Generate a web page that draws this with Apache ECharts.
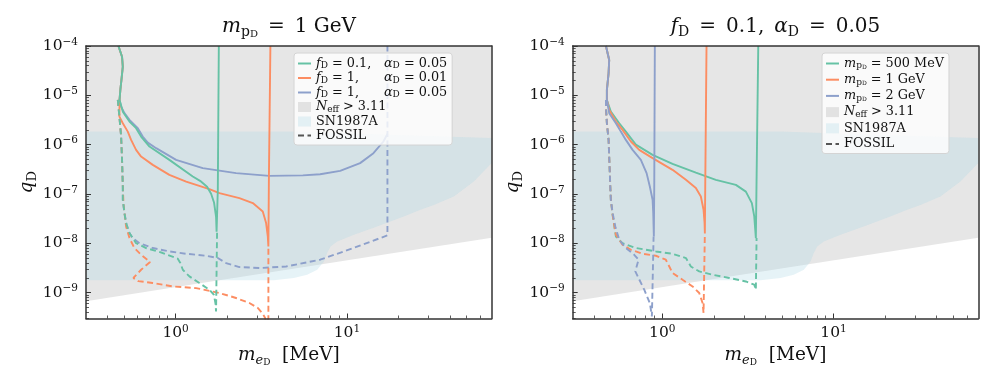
<!DOCTYPE html>
<html>
<head>
<meta charset="utf-8">
<title>dark sector limits</title>
<script src="https://cdn.jsdelivr.net/npm/echarts@6.0.0/dist/echarts.min.js"></script>
<style>
  html, body { margin: 0; padding: 0; background: #fff; }
  #chart { width: 996px; height: 382px; }
</style>
</head>
<body>
<div id="chart"></div>
<script>
// axis ranges (MeV, q_D)
var XMIN = 0.3, XMAX = 70, YMIN = 3e-10, YMAX = 1e-4;
var xMajor = [1, 10];
var xMinor = [0.4, 0.5, 0.6, 0.7, 0.8, 0.9, 2, 3, 4, 5, 6, 7, 8, 9, 20, 30, 40, 50, 60];
var yMajor = [1e-9, 1e-8, 1e-7, 1e-6, 1e-5, 1e-4];
var yMinor = [];
for (var e = -10; e <= -5; e++) {
    for (var k = 2; k <= 9; k++) {
        var v = k * Math.pow(10, e);
        if (v >= YMIN && v <= YMAX) yMinor.push(v);
    }
}

// shaded regions (same in both panels)
var neffEdge = [[XMIN, 6.7e-10], [1.39, 1.55e-9], [XMAX, 1.3e-8]];
var snEdge = [
    [XMIN, 1.84e-6], [4.9, 1.84e-6], [18.8, 1.58e-6], [XMAX, 1.36e-6],
    [XMAX, 4.23e-7], [55.1, 1.79e-7], [42.1, 8.9e-8], [32.2, 6.0e-8], [26.9, 4.8e-8],
    [21.5, 3.5e-8], [15.0, 2.2e-8], [11.0, 1.49e-8], [8.78, 1.09e-8], [8.03, 8.65e-9],
    [7.67, 6.4e-9], [7.34, 4.3e-9], [6.71, 2.92e-9], [5.86, 2.31e-9], [4.9, 1.99e-9],
    [3.75, 1.78e-9], [XMIN, 1.78e-9]
];

// left panel: m_pD = 1 GeV
var fd01a005 = [[0.464,1e-4],[0.487,6.07e-5],[0.492,3.81e-5],[0.483,2.05e-5],[0.476,1.29e-5],[0.471,8.07e-6],
    [0.492,4.68e-6],[0.538,2.94e-6],[0.588,2.16e-6],[0.629,1.46e-6],[0.704,9.16e-7],[0.92,4.92e-7],
    [1.26,2.26e-7],[1.39,1.85e-7],[1.527,1.4e-7],[1.612,1.01e-7],[1.678,6.64e-8],[1.723,3.45e-8],
    [1.735,1.72e-8],[1.759,1.72e-8],[1.764,1.22e-7],[1.788,1e-4]];
var fd01a005Fossil = [[0.46,8.07e-6],[0.47,3.71e-6],[0.481,1.46e-6],[0.487,4.92e-7],[0.492,1.42e-7],
    [0.492,7.64e-8],[0.503,4.1e-8],[0.514,2.58e-8],[0.538,1.62e-8],[0.588,1.01e-8],[0.673,8.04e-9],
    [0.842,6.37e-9],[1.03,4.88e-9],[1.066,3.99e-9],[1.102,2.92e-9],[1.204,2.14e-9],[1.377,1.57e-9],
    [1.575,1.15e-9],[1.671,9.1e-10],[1.708,6.18e-10],[1.723,4.18e-10],[1.747,4.18e-10],[1.747,1.88e-8]];
var fd1a001 = [[0.464,1e-4],[0.487,6.07e-5],[0.492,3.81e-5],[0.483,2.05e-5],[0.476,1.29e-5],[0.471,8.07e-6],
    [0.47,3.71e-6],[0.492,2.72e-6],[0.526,1.84e-6],[0.55,1.25e-6],[0.588,7.85e-7],[0.629,5.74e-7],
    [0.736,3.9e-7],[0.92,2.45e-7],[1.152,1.79e-7],[1.575,1.26e-7],[1.802,1.04e-7],[2.357,8.26e-8],
    [2.823,6.55e-8],[3.228,4.43e-8],[3.376,2.58e-8],[3.453,1.38e-8],[3.481,8.65e-9],[3.514,8.65e-9],
    [3.504,1.94e-7],[3.576,1e-4]];
var fd1a001Fossil = [[0.46,8.07e-6],[0.47,3.71e-6],[0.481,1.46e-6],[0.487,4.92e-7],[0.492,1.42e-7],
    [0.497,6.04e-8],[0.514,2.2e-8],[0.538,1.28e-8],[0.575,8.04e-9],[0.629,5.87e-9],[0.71,4.2e-9],
    [0.629,2.92e-9],[0.567,1.99e-9],[0.606,1.72e-9],[0.736,1.57e-9],[0.963,1.34e-9],[1.317,1.24e-9],
    [1.802,9.86e-10],[2.255,7.81e-10],[2.697,6.18e-10],[3.019,4.9e-10],[3.228,3.76e-10],[3.331,3.08e-10],
    [3.4,2e-10],[3.481,2e-10],[3.481,3.08e-10],[3.481,8.65e-9]];
var fd1a005 = [[0.464,1e-4],[0.487,6.07e-5],[0.492,3.81e-5],[0.483,2.05e-5],[0.476,1.29e-5],[0.471,8.07e-6],
    [0.481,5.9e-6],[0.503,4.35e-6],[0.538,3.18e-6],[0.602,2.16e-6],[0.643,1.46e-6],[0.688,1.1e-6],
    [0.77,8.49e-7],[1.007,4.92e-7],[1.441,3.34e-7],[2.255,2.65e-7],[3.528,2.33e-7],[5.529,2.39e-7],
    [6.977,2.51e-7],[9.13,2.95e-7],[11.94,4.23e-7],[14.28,6.73e-7],[16.34,1.16e-6],[17.24,1.66e-6]];
var fd1a005Fossil = [[0.46,8.07e-6],[0.47,3.71e-6],[0.481,1.46e-6],[0.487,4.92e-7],[0.492,1.42e-7],
    [0.492,7.64e-8],[0.503,4.1e-8],[0.518,2.38e-8],[0.538,1.62e-8],[0.562,1.28e-8],[0.615,1.01e-8],
    [0.736,8.04e-9],[0.92,6.86e-9],[1.152,6.15e-9],[1.507,5.61e-9],[1.764,5.04e-9],[1.971,3.99e-9],
    [2.357,3.31e-9],[3.084,3.16e-9],[4.417,3.4e-9],[6.977,4.66e-9],[10.91,8.04e-9],[17.24,1.45e-8],
    [17.24,1e-4]];

// right panel: f_D = 0.1, alpha_D = 0.05
var m500 = [[0.469,1e-4],[0.49,5.21e-5],[0.486,2.8e-5],[0.475,1.29e-5],[0.475,8.07e-6],
    [0.501,4.68e-6],[0.561,2.72e-6],[0.613,1.84e-6],[0.701,1e-6],[0.878,6.22e-7],[1.148,4.08e-7],
    [1.571,2.72e-7],[2.055,1.94e-7],[2.69,1.53e-7],[3.076,1.12e-7],[3.335,6.55e-8],[3.444,3.51e-8],
    [3.491,1.88e-8],[3.519,1.28e-8],[3.553,1.28e-8],[3.553,1.94e-7],[3.635,1e-4]];
var m500Fossil = [[0.469,8.07e-6],[0.469,5.9e-6],[0.475,2.72e-6],[0.486,1.25e-6],[0.494,2.65e-7],
    [0.501,7.64e-8],[0.513,3.79e-8],[0.536,1.38e-8],[0.586,1.01e-8],[0.701,8.04e-9],[0.918,6.86e-9],
    [1.148,6.15e-9],[1.374,5.04e-9],[1.469,3.4e-9],[1.644,2.7e-9],[1.966,2.31e-9],[2.461,1.99e-9],
    [3.076,1.69e-9],[3.444,1.45e-9],[3.519,1.15e-9],[3.553,1.15e-9],[3.553,1.28e-8]];
var m1000 = [[0.469,1e-4],[0.49,5.21e-5],[0.486,2.8e-5],[0.475,1.29e-5],[0.475,8.07e-6],
    [0.49,5.06e-6],[0.536,2.94e-6],[0.586,2e-6],[0.656,1.16e-6],[0.734,7.85e-7],[0.878,5.33e-7],
    [1.148,3.09e-7],[1.374,1.94e-7],[1.571,1.32e-7],[1.68,8.89e-8],[1.742,4.79e-8],[1.766,2.58e-8],
    [1.773,1.62e-8],[1.789,1.62e-8],[1.782,1.42e-7],[1.813,1e-4]];
var m1000Fossil = [[0.469,8.07e-6],[0.469,5.9e-6],[0.475,2.72e-6],[0.486,1.25e-6],[0.494,2.65e-7],
    [0.501,7.64e-8],[0.513,3.79e-8],[0.536,1.49e-8],[0.586,9.38e-9],[0.656,7.41e-9],[0.767,6.15e-9],
    [0.918,5.61e-9],[1.049,4.66e-9],[1.099,3.4e-9],[1.148,2.51e-9],[1.314,1.83e-9],[1.503,1.34e-9],
    [1.644,9.86e-10],[1.719,6.18e-10],[1.742,3.88e-10],[1.773,3.88e-10],[1.773,1.62e-8]];
var m2000 = [[0.469,1e-4],[0.49,5.21e-5],[0.486,2.8e-5],[0.475,1.29e-5],[0.475,8.07e-6],
    [0.49,4.35e-6],[0.536,2.72e-6],[0.573,1.84e-6],[0.613,1.25e-6],[0.671,7.85e-7],[0.75,4.92e-7],
    [0.81,2.65e-7],[0.846,1.42e-7],[0.878,7.64e-8],[0.886,4.1e-8],[0.89,2.2e-8],[0.893,1.38e-8],
    [0.902,1.38e-8],[0.898,1.42e-7],[0.905,1e-4]];
var m2000Fossil = [[0.469,8.07e-6],[0.469,5.9e-6],[0.475,2.72e-6],[0.486,1.25e-6],[0.494,2.65e-7],
    [0.497,1.42e-7],[0.501,7.64e-8],[0.513,4.1e-8],[0.532,2.2e-8],[0.561,1.18e-8],[0.613,8.04e-9],
    [0.686,5.87e-9],[0.727,4.66e-9],[0.696,2.7e-9],[0.785,1.15e-9],[0.846,6.18e-10],[0.87,3.31e-10],
    [0.886,3.31e-10],[0.89,1.38e-8]];

var GREEN = '#66c2a5', ORANGE = '#fc8d62', BLUE = '#8da0cb';
var NEFF = 'rgba(128,128,128,0.2)', SN = 'rgba(173,216,230,0.3)';
var FRAME = '#333';
var SERIF = '"DejaVu Serif", "Liberation Serif", serif';
var SP = '\u2002';

function powLabel(val) {
    var p = Math.round(Math.log(val) / Math.LN10);
    return '{b|10}{s|' + (p < 0 ? '\u2212' + (-p) : p) + '}';
}
var tickRich = {
    b: {fontFamily: SERIF, fontSize: 15.5, lineHeight: 19, color: '#111'},
    s: {fontFamily: SERIF, fontSize: 10.5, lineHeight: 10, verticalAlign: 'top', color: '#111'}
};
function mathRich(size, lh, vw) {
    var base = {fontFamily: SERIF, fontWeight: 'normal', color: '#111'};
    function st(o) { return Object.assign({}, base, o); }
    return {
        t: st({fontSize: size, lineHeight: lh}),
        i: st({fontSize: size, lineHeight: lh, fontStyle: 'italic'}),
        v: st({fontSize: size, lineHeight: lh, width: vw || 50}),
        s: st({fontSize: Math.round(size * 0.68), lineHeight: Math.round(lh * 0.6), verticalAlign: 'bottom'}),
        si: st({fontSize: Math.round(size * 0.68), lineHeight: Math.round(lh * 0.6), verticalAlign: 'bottom', fontStyle: 'italic'}),
        ss: st({fontSize: Math.round(size * 0.5), lineHeight: Math.round(lh * 0.36), verticalAlign: 'bottom'})
    };
}

var xAxes = [], yAxes = [];
[0, 1].forEach(function (g) {
    xAxes.push({
        type: 'log', logBase: 10, gridIndex: g, min: XMIN, max: XMAX, position: 'bottom', z: 10,
        axisLine: {show: true, onZero: false, lineStyle: {color: FRAME, width: 1.5}},
        axisTick: {show: true, inside: true, length: 5, customValues: xMajor, lineStyle: {color: FRAME, width: 1}},
        axisLabel: {show: true, customValues: xMajor, margin: 5, formatter: powLabel, rich: tickRich},
        splitLine: {show: false},
        name: '{i|m}{si|e}{ss|D}{t|  [MeV]}', nameLocation: 'middle', nameGap: 23,
        nameTextStyle: {rich: mathRich(18.5, 24)}
    });
    xAxes.push({
        type: 'log', logBase: 10, gridIndex: g, min: XMIN, max: XMAX, position: 'bottom', z: 10,
        axisLine: {show: false},
        axisTick: {show: true, inside: true, length: 3, customValues: xMinor, lineStyle: {color: FRAME, width: 0.8}},
        axisLabel: {show: false}, splitLine: {show: false}
    });
    xAxes.push({
        type: 'log', logBase: 10, gridIndex: g, min: XMIN, max: XMAX, position: 'top', z: 10,
        axisLine: {show: true, onZero: false, lineStyle: {color: FRAME, width: 1.5}},
        axisTick: {show: false}, axisLabel: {show: false}, splitLine: {show: false}
    });
    yAxes.push({
        type: 'log', logBase: 10, gridIndex: g, min: YMIN, max: YMAX, position: 'left', z: 10,
        axisLine: {show: true, onZero: false, lineStyle: {color: FRAME, width: 1.5}},
        axisTick: {show: true, inside: true, length: 5, customValues: yMajor, lineStyle: {color: FRAME, width: 1}},
        axisLabel: {show: true, customValues: yMajor, margin: 8, formatter: powLabel, rich: tickRich},
        splitLine: {show: false},
        name: '{i|q}{s|D}', nameLocation: 'middle', nameGap: 44,
        nameTextStyle: {rich: mathRich(18.5, 24)}
    });
    yAxes.push({
        type: 'log', logBase: 10, gridIndex: g, min: YMIN, max: YMAX, position: 'left', z: 10,
        axisLine: {show: false},
        axisTick: {show: true, inside: true, length: 3, customValues: yMinor, lineStyle: {color: FRAME, width: 0.8}},
        axisLabel: {show: false}, splitLine: {show: false}
    });
    yAxes.push({
        type: 'log', logBase: 10, gridIndex: g, min: YMIN, max: YMAX, position: 'right', z: 10,
        axisLine: {show: true, onZero: false, lineStyle: {color: FRAME, width: 1.5}},
        axisTick: {show: false}, axisLabel: {show: false}, splitLine: {show: false}
    });
});

function area(name, pts, color, g) {
    return {
        name: name, type: 'custom', coordinateSystem: 'cartesian2d',
        xAxisIndex: g * 3, yAxisIndex: g * 3, data: pts, silent: true, z: 1, clip: true,
        itemStyle: {color: color},
        renderItem: function (params, api) {
            if (params.dataIndex !== 0) return null;
            return {
                type: 'polygon',
                shape: {points: pts.map(function (d) { return api.coord(d); })},
                style: {fill: color}
            };
        }
    };
}
function curve(name, pts, color, dashed, g, z) {
    return {
        name: name, type: 'line', xAxisIndex: g * 3, yAxisIndex: g * 3, data: pts,
        symbol: 'none', showSymbol: false, silent: true, z: z,
        lineStyle: {color: color, width: 1.9, type: dashed ? [6, 3.5] : 'solid'},
        itemStyle: {color: color}
    };
}

var neffPoly = [[XMIN, YMAX]].concat(neffEdge, [[XMAX, YMAX]]);
var series = [];
[0, 1].forEach(function (g) {
    series.push(area('neff' + g, neffPoly, NEFF, g));
    series.push(area('sn' + g, snEdge, SN, g));
    series.push(curve('fossil' + g, [], '#555', true, g, 2));
});
// left panel: green on top
series.push(curve('b1', fd1a005, BLUE, false, 0, 3));
series.push(curve('b1f', fd1a005Fossil, BLUE, true, 0, 3));
series.push(curve('o1', fd1a001, ORANGE, false, 0, 4));
series.push(curve('o1f', fd1a001Fossil, ORANGE, true, 0, 4));
series.push(curve('g1', fd01a005, GREEN, false, 0, 5));
series.push(curve('g1f', fd01a005Fossil, GREEN, true, 0, 5));
// right panel: blue on top
series.push(curve('g2', m500, GREEN, false, 1, 3));
series.push(curve('g2f', m500Fossil, GREEN, true, 1, 3));
series.push(curve('o2', m1000, ORANGE, false, 1, 4));
series.push(curve('o2f', m1000Fossil, ORANGE, true, 1, 4));
series.push(curve('b2', m2000, BLUE, false, 1, 5));
series.push(curve('b2f', m2000Fossil, BLUE, true, 1, 5));

var legendText = {
    g1: '{i|f}{s|D}{v| = 0.1,}{i|\u03b1}{s|D}{t| = 0.05}',
    o1: '{i|f}{s|D}{v| = 1,}{i|\u03b1}{s|D}{t| = 0.01}',
    b1: '{i|f}{s|D}{v| = 1,}{i|\u03b1}{s|D}{t| = 0.05}',
    g2: '{i|m}{s|p}{ss|D}{t| = 500 MeV}',
    o2: '{i|m}{s|p}{ss|D}{t| = 1 GeV}',
    b2: '{i|m}{s|p}{ss|D}{t| = 2 GeV}',
    neff0: '{i|N}{s|eff}{t| > 3.11}', neff1: '{i|N}{s|eff}{t| > 3.11}',
    sn0: '{t|SN1987A}', sn1: '{t|SN1987A}',
    fossil0: '{t|FOSSIL}', fossil1: '{t|FOSSIL}'
};
function legendBox(names, left, gap) {
    return {
        data: names.map(function (n) {
            if (n.indexOf('neff') === 0 || n.indexOf('sn') === 0) return {name: n, icon: 'rect'};
            return {name: n, itemStyle: {opacity: 0}};
        }),
        orient: 'vertical', left: left, top: 53,
        itemWidth: 13, itemHeight: 10, itemGap: gap,
        padding: [4, 5, 3, 3],
        backgroundColor: 'rgba(255,255,255,0.8)', borderColor: '#d4d4d4', borderWidth: 1, borderRadius: 3,
        selectedMode: false,
        formatter: function (n) { return legendText[n]; },
        textStyle: {fontFamily: SERIF, fontSize: 12.8, rich: mathRich(12.8, 14, 56)}
    };
}

var option = {
    animation: false,
    textStyle: {fontFamily: SERIF},
    title: [
        {text: '{i|m}{s|p}{ss|D}{t|' + SP + '=' + SP + '1 GeV}', left: 289, top: 15, textAlign: 'center', padding: 0,
            textStyle: {fontWeight: 'normal', rich: mathRich(20, 24)}},
        {text: '{i|f}{s|D}{t|' + SP + '=' + SP + '0.1,' + SP + '}{i|\u03b1}{s|D}{t|' + SP + '=' + SP + '0.05}', left: 775.5, top: 15, textAlign: 'center', padding: 0,
            textStyle: {fontWeight: 'normal', rich: mathRich(20, 24)}}
    ],
    grid: [
        {left: 86, top: 46, width: 405.7, height: 272.5},
        {left: 572.7, top: 46, width: 405.6, height: 272.5}
    ],
    legend: [
        legendBox(['g1', 'o1', 'b1', 'neff0', 'sn0', 'fossil0'], 294, 1),
        legendBox(['g2', 'o2', 'b2', 'neff1', 'sn1', 'fossil1'], 822, 2.7)
    ],
    xAxis: xAxes,
    yAxis: yAxes,
    series: series
};

var chart = echarts.init(document.getElementById('chart'));
chart.setOption(option);
</script>
</body>
</html>
